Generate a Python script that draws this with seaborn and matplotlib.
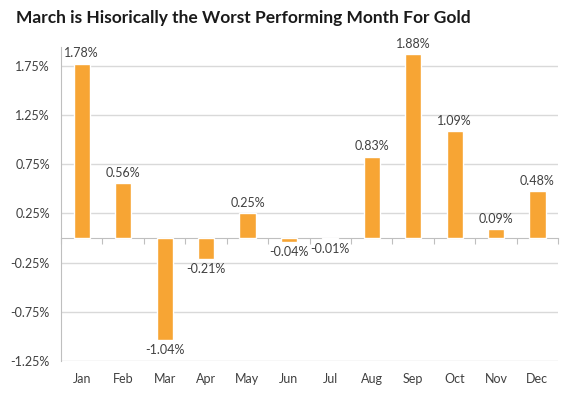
import numpy as np
import pandas as pd
import matplotlib
matplotlib.use("Agg")
import matplotlib.pyplot as plt
import seaborn as sns

# Average monthly gold return (%)
months = ["Jan", "Feb", "Mar", "Apr", "May", "Jun",
          "Jul", "Aug", "Sep", "Oct", "Nov", "Dec"]
returns = [1.78, 0.56, -1.04, -0.21, 0.25, -0.04,
           -0.01, 0.83, 1.88, 1.09, 0.09, 0.48]
y_ticks = [-1.25, -0.75, -0.25, 0.25, 0.75, 1.25, 1.75]

df = pd.DataFrame({"Month": months, "Return": returns})

sns.set_style("white")
plt.rcParams["font.family"] = ["Lato", "DejaVu Sans"]

fig = plt.figure(figsize=(5.76, 3.94), dpi=100)
ax = fig.add_axes([0.106, 0.085, 0.863, 0.796])

sns.barplot(data=df, x="Month", y="Return", color="#F7A534",
            saturation=1, width=0.39, ax=ax)

ax.set_xlim(-0.5, len(months) - 0.5)
ax.set_ylim(-1.25, 1.95)
ax.set_yticks(y_ticks)
ax.set_yticklabels([f"{t:.2f}%" for t in y_ticks])
ax.yaxis.grid(True, color="#d9d9d9", linewidth=1)
ax.set_axisbelow(True)
ax.set_xlabel("")
ax.set_ylabel("")

for side in ["top", "right", "bottom"]:
    ax.spines[side].set_visible(False)
ax.spines["left"].set_color("#bfbfbf")
ax.tick_params(axis="both", length=0, labelsize=9, colors="#404040")
ax.tick_params(axis="x", pad=9)
ax.tick_params(axis="y", pad=8)

# zero axis line with category separators
zero_ax = ax.secondary_xaxis(0, transform=ax.transData)
zero_ax.set_xticks(np.arange(len(months) + 1) - 0.5)
zero_ax.tick_params(length=4, color="#bfbfbf", labelbottom=False)
zero_ax.spines["bottom"].set_color("#bfbfbf")

ax.bar_label(ax.containers[0], labels=[f"{v:.2f}%" for v in returns],
             padding=3, fontsize=9, color="#404040")

fig.text(0.028, 0.955, "March is Hisorically the Worst Performing Month For Gold",
         fontsize=12.5, fontweight="bold", color="#1a1a1a", ha="left", va="center")

fig.savefig("out.png", dpi=100)
